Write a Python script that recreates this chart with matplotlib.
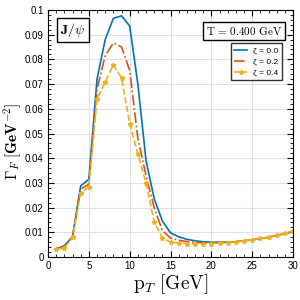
import numpy as np
import matplotlib
matplotlib.use("Agg")
import matplotlib.pyplot as plt
from matplotlib.ticker import AutoMinorLocator, FormatStrFormatter

# valeurs
pt = np.arange(1, 31)
gamma_z00 = [0.0033, 0.0046, 0.0083, 0.0288, 0.0315, 0.072, 0.088, 0.0966, 0.0976, 0.0935,
             0.070, 0.039, 0.0236, 0.0146, 0.0098, 0.0082, 0.0072, 0.0066, 0.0062, 0.0060,
             0.0060, 0.0060, 0.0062, 0.0066, 0.0070, 0.0075, 0.0080, 0.0088, 0.0095, 0.0103]
gamma_z02 = [0.0033, 0.0042, 0.0082, 0.0275, 0.0295, 0.068, 0.0815, 0.0866, 0.085, 0.0755,
             0.048, 0.033, 0.020, 0.0107, 0.0077, 0.0068, 0.0063, 0.0060, 0.0058, 0.0058,
             0.0059, 0.0060, 0.0062, 0.0066, 0.0070, 0.0075, 0.0080, 0.0088, 0.0095, 0.0104]
gamma_z04 = [0.0032, 0.0036, 0.0080, 0.0260, 0.0284, 0.064, 0.0708, 0.0778, 0.0725, 0.054,
             0.0417, 0.030, 0.0142, 0.0078, 0.0060, 0.0057, 0.0055, 0.0054, 0.0054, 0.0055,
             0.0057, 0.0059, 0.0062, 0.0066, 0.0071, 0.0076, 0.0082, 0.0089, 0.0097, 0.0106]
labels = ["ζ = 0.0", "ζ = 0.2", "ζ = 0.4"]

plt.rcParams["mathtext.fontset"] = "cm"
plt.rcParams["font.family"] = ["Liberation Sans Narrow", "Liberation Sans", "DejaVu Sans"]

fig = plt.figure(figsize=(3, 3), dpi=100)
ax = fig.add_axes([0.16, 0.143, 0.817, 0.824])

ax.plot(pt, gamma_z00, "-", color="#0072BD", lw=1.2, label=labels[0])
ax.plot(pt, gamma_z02, "-.", color="#D95319", lw=1.2, label=labels[1])
ax.plot(pt, gamma_z04, "--", color="#EDB120", lw=1.2, marker="*", ms=3.5, label=labels[2])

ax.set_xlim(0, 30)
ax.set_ylim(0, 0.1)
ax.set_xticks(np.arange(0, 31, 5))
ax.set_yticks(np.arange(0, 0.101, 0.01))
ax.yaxis.set_major_formatter(FormatStrFormatter("%g"))
ax.xaxis.set_minor_locator(AutoMinorLocator(5))
ax.yaxis.set_minor_locator(AutoMinorLocator(5))
ax.tick_params(which="both", direction="in", top=True, right=True, labelsize=7)
ax.tick_params(which="major", length=4, pad=3)
ax.tick_params(which="minor", length=2)
ax.grid(True, which="major", color="#e0e0e0", lw=0.8)
ax.set_axisbelow(True)

ax.set_xlabel(r"$\mathrm{p}_T\ [\mathrm{GeV}]$", fontsize=14, labelpad=1)
ax.set_ylabel(r"$\mathbf{\Gamma}_F\ \mathbf{[GeV^{-2}]}$", fontsize=11)
ax.yaxis.set_label_coords(-0.1, 0.47)

ax.text(0.05, 0.955, r"$\mathbf{J}/\psi$", transform=ax.transAxes, fontsize=10,
        va="top", ha="left",
        bbox=dict(boxstyle="square,pad=0.25", fc="white", ec="black", lw=1))
ax.text(0.955, 0.94, r"$\mathrm{T}\,=\,0.400\ \mathrm{GeV}$", transform=ax.transAxes,
        fontsize=8, va="top", ha="right",
        bbox=dict(boxstyle="square,pad=0.25", fc="white", ec="black", lw=1))

leg = ax.legend(loc="upper right", bbox_to_anchor=(0.955, 0.865), fontsize=6,
                fancybox=False, edgecolor="black", handlelength=1.5,
                borderaxespad=0, labelspacing=0.4)
leg.get_frame().set_linewidth(1)

fig.savefig("out.png", dpi=100)
